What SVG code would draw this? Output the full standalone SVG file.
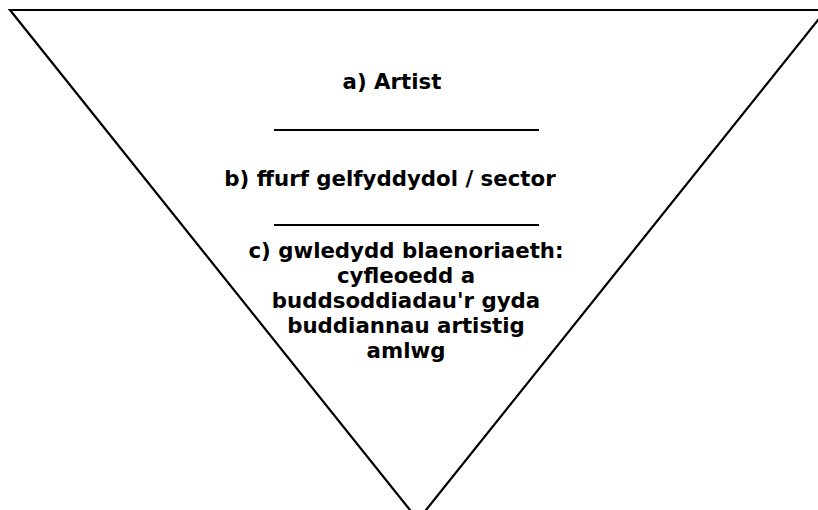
<svg xmlns="http://www.w3.org/2000/svg" width="818" height="510" viewBox="0 0 818 510">
<style>
.t{font-family:"DejaVu Sans",Verdana,sans-serif;font-weight:bold;font-size:21.3px;fill:#000;text-anchor:middle}
.ln{stroke:#000;stroke-width:2.2;fill:none}
</style>
<rect width="818" height="510" fill="#fff"/>
<g id="triangle">
<polygon class="ln" points="10,10 826,10 418,520" stroke-linejoin="miter"/>
</g>
<g id="connectors">
<line class="ln" x1="274" y1="130" x2="539" y2="130"/>
<line class="ln" x1="274" y1="225" x2="539" y2="225"/>
</g>
<g id="a">
<text class="t" x="392" y="89">a) Artist</text>
</g>
<g id="b">
<text class="t" x="390" y="186">b) ffurf gelfyddydol / sector</text>
</g>
<g id="c">
<text class="t" x="406" y="257.5">c) gwledydd blaenoriaeth:</text>
<text class="t" x="406" y="282.5">cyfleoedd a</text>
<text class="t" x="406" y="307.5">buddsoddiadau'r gyda</text>
<text class="t" x="406" y="332.5">buddiannau artistig</text>
<text class="t" x="406" y="357.5">amlwg</text>
</g>
</svg>
